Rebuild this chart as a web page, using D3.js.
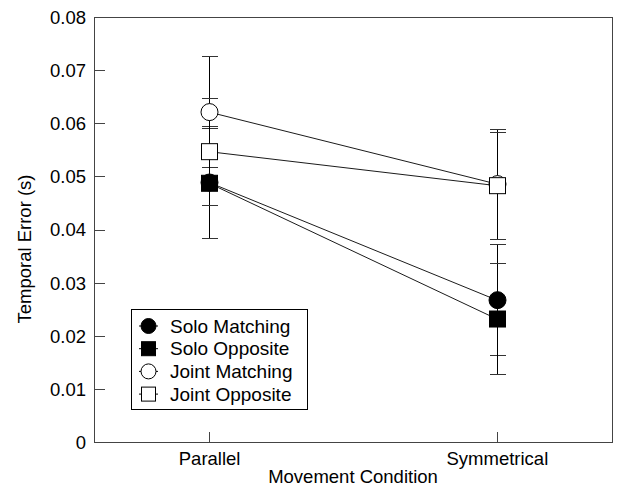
<!DOCTYPE html>
<html>
<head>
<meta charset="utf-8">
<script src="https://cdn.jsdelivr.net/npm/d3@7"></script>
<style>
  html, body { margin: 0; padding: 0; background: #fff; }
  svg { display: block; }
  text { font-family: "Liberation Sans", Arial, Helvetica, sans-serif; fill: #000; }
</style>
</head>
<body>
<svg id="chart" width="633" height="495"></svg>
<script>
// ---- data ----
const categories = ["Parallel", "Symmetrical"];
const seriesNames = ["Solo Matching", "Solo Opposite", "Joint Matching", "Joint Opposite"];
const soloMatching   = [0.04885, 0.0267];
const soloOpposite   = [0.0487, 0.02315];
const jointMatching  = [0.0621, 0.04855];
const jointOpposite  = [0.05465, 0.04825];
const soloMatchingErr  = [0.01055, 0.0105];
const soloOppositeErr  = [0.0104, 0.01045];
const jointMatchingErr = [0.0104, 0.01035];
const jointOppositeErr = [0.01005, 0.01005];
const yTicks = [0, 0.01, 0.02, 0.03, 0.04, 0.05, 0.06, 0.07, 0.08];
const yTickLabels = ["0", "0.01", "0.02", "0.03", "0.04", "0.05", "0.06", "0.07", "0.08"];
const xTitle = "Movement Condition";
const yTitle = "Temporal Error (s)";

const series = [
  { name: seriesNames[0], values: soloMatching,  errs: soloMatchingErr,  shape: "circle", fill: "#000" },
  { name: seriesNames[1], values: soloOpposite,  errs: soloOppositeErr,  shape: "square", fill: "#000" },
  { name: seriesNames[2], values: jointMatching, errs: jointMatchingErr, shape: "circle", fill: "#fff" },
  { name: seriesNames[3], values: jointOpposite, errs: jointOppositeErr, shape: "square", fill: "#fff" }
];

// ---- layout ----
const L = 94, R = 612, T = 17, B = 442;
const svg = d3.select("#chart");
const x = d3.scalePoint().domain(categories).range([L, R]).padding(0.4);
const y = d3.scaleLinear().domain([0, 0.08]).range([B, T]);

// axes
const yAxis = d3.axisLeft(y).tickValues(yTicks)
  .tickFormat((d, i) => yTickLabels[i]).tickSizeInner(-11).tickSizeOuter(0).tickPadding(8);
const gy = svg.append("g").attr("transform", `translate(${L},0)`).call(yAxis);
gy.select(".domain").remove();
gy.selectAll("line").attr("stroke", "#444").attr("shape-rendering", "crispEdges");
gy.selectAll("text").style("font-size", "18.5px").attr("dy", "0.35em");

const xAxis = d3.axisBottom(x).tickSizeInner(-10).tickSizeOuter(0).tickPadding(10);
const gx = svg.append("g").attr("transform", `translate(0,${B})`).call(xAxis);
gx.select(".domain").remove();
gx.selectAll("line").attr("stroke", "#444").attr("shape-rendering", "crispEdges");
gx.selectAll("text").style("font-size", "18.5px");

// frame
svg.append("rect").attr("x", L).attr("y", T).attr("width", R - L).attr("height", B - T)
  .attr("fill", "none").attr("stroke", "#444").attr("stroke-width", 1).attr("shape-rendering", "crispEdges");

// titles
svg.append("text").attr("x", (L + R) / 2).attr("y", 483).attr("text-anchor", "middle")
  .style("font-size", "18.5px").text(xTitle);
svg.append("text").attr("transform", "translate(31,249) rotate(-90)").attr("text-anchor", "middle")
  .style("font-size", "18.5px").text(yTitle);

// error bars
const capW = 8;
const eb = svg.append("g").attr("stroke", "#000").attr("stroke-width", 1).attr("shape-rendering", "crispEdges");
series.forEach(s => {
  categories.forEach((c, i) => {
    const cx = Math.round(x(c)) + 0.5;
    const hi = y(s.values[i] + s.errs[i]), lo = y(s.values[i] - s.errs[i]);
    eb.append("line").attr("x1", cx).attr("x2", cx).attr("y1", hi).attr("y2", lo);
    eb.append("line").attr("x1", cx - capW).attr("x2", cx + capW).attr("y1", hi).attr("y2", hi).attr("stroke", "#333");
    eb.append("line").attr("x1", cx - capW).attr("x2", cx + capW).attr("y1", lo).attr("y2", lo).attr("stroke", "#333");
  });
});

// lines
const line = d3.line().x((d, i) => x(categories[i])).y(d => y(d));
series.forEach(s => {
  svg.append("path").datum(s.values).attr("d", line)
    .attr("fill", "none").attr("stroke", "#000").attr("stroke-width", 0.9);
});

// markers
function drawMarker(g, shape, cx, cy, size, fill) {
  if (shape === "circle") {
    g.append("circle").attr("cx", cx).attr("cy", cy).attr("r", size / 2)
      .attr("fill", fill).attr("stroke", "#000").attr("stroke-width", 1);
  } else {
    g.append("rect").attr("x", cx - size / 2).attr("y", cy - size / 2)
      .attr("width", size).attr("height", size)
      .attr("fill", fill).attr("stroke", "#000").attr("stroke-width", 1);
  }
}
const mk = svg.append("g");
series.forEach(s => {
  categories.forEach((c, i) => {
    drawMarker(mk, s.shape, Math.round(x(c)) + 0.5, y(s.values[i]), s.shape === "circle" ? 17 : 16, s.fill);
  });
});

// legend
const lg = svg.append("g");
lg.append("rect").attr("x", 131.5).attr("y", 309.5).attr("width", 176).attr("height", 100)
  .attr("fill", "#fff").attr("stroke", "#000").attr("stroke-width", 1);
series.forEach((s, i) => {
  const cy = 326 + i * 22.7;
  lg.append("line").attr("x1", 139).attr("x2", 158).attr("y1", cy).attr("y2", cy)
    .attr("stroke", "#000").attr("stroke-width", 1);
  drawMarker(lg, s.shape, 148.5, cy, s.shape === "circle" ? 15 : 14, s.fill);
  lg.append("text").attr("x", 170).attr("y", cy).attr("dy", "0.35em")
    .style("font-size", "19px").text(s.name);
});
</script>
</body>
</html>
